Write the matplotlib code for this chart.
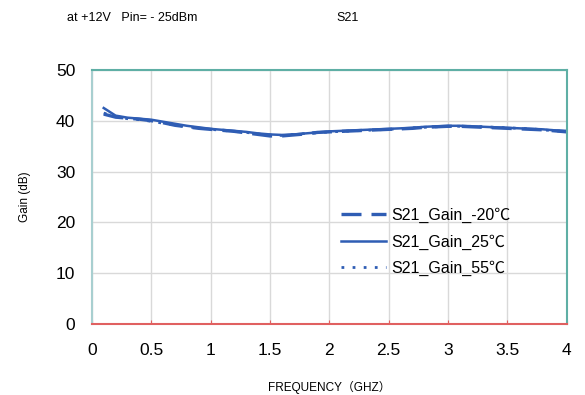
import matplotlib
matplotlib.use("Agg")
import matplotlib.pyplot as plt

plt.rcParams['font.family'] = ['Liberation Sans', 'Noto Sans CJK SC', 'DejaVu Sans']

freq = [0.1, 0.2, 0.3, 0.4, 0.5, 0.6, 0.7, 0.8, 0.9, 1.0,
        1.1, 1.2, 1.3, 1.4, 1.5, 1.6, 1.7, 1.8, 1.9, 2.0,
        2.1, 2.2, 2.3, 2.4, 2.5, 2.6, 2.7, 2.8, 2.9, 3.0,
        3.1, 3.2, 3.3, 3.4, 3.5, 3.6, 3.7, 3.8, 3.9, 4.0]

gain_m20 = [41.3, 40.7, 40.5, 40.3, 40.0, 39.6, 39.1, 38.8, 38.5, 38.3,
            38.1, 37.9, 37.6, 37.3, 37.0, 37.0, 37.2, 37.4, 37.7, 37.8,
            37.9, 38.0, 38.1, 38.2, 38.3, 38.4, 38.5, 38.7, 38.8, 38.9,
            38.9, 38.8, 38.7, 38.6, 38.5, 38.4, 38.3, 38.2, 38.0, 37.8]
gain_25 = [42.5, 41.0, 40.6, 40.4, 40.2, 39.8, 39.4, 39.0, 38.7, 38.4,
           38.2, 38.0, 37.8, 37.5, 37.3, 37.2, 37.3, 37.5, 37.7, 37.9,
           38.0, 38.1, 38.2, 38.3, 38.4, 38.5, 38.6, 38.8, 38.9, 39.0,
           39.0, 38.9, 38.8, 38.7, 38.6, 38.5, 38.4, 38.3, 38.1, 38.0]
gain_55 = [41.5, 40.8, 40.4, 40.2, 39.9, 39.5, 39.2, 38.8, 38.6, 38.3,
           38.1, 37.9, 37.7, 37.4, 37.2, 37.1, 37.3, 37.5, 37.6, 37.8,
           37.9, 38.0, 38.1, 38.2, 38.3, 38.4, 38.6, 38.7, 38.8, 38.9,
           38.9, 38.9, 38.8, 38.7, 38.6, 38.5, 38.4, 38.2, 38.0, 37.9]

blue = '#2F5DB4'

fig = plt.figure(figsize=(5.85, 3.95), dpi=100)
ax = fig.add_axes([0.157, 0.180, 0.812, 0.643])

ax.plot(freq, gain_m20, color=blue, lw=2.4, ls=(0, (6, 3)), label='S21_Gain_-20℃')
ax.plot(freq, gain_25, color=blue, lw=1.8, ls='-', label='S21_Gain_25℃')
ax.plot(freq, gain_55, color=blue, lw=2.0, ls=(0, (1, 3)), label='S21_Gain_55℃')

ax.set_xlim(0, 4)
ax.set_ylim(0, 50)
ax.set_xticks([0, 0.5, 1, 1.5, 2, 2.5, 3, 3.5, 4])
ax.set_xticklabels(['0', '0.5', '1', '1.5', '2', '2.5', '3', '3.5', '4'])
ax.set_yticks([0, 10, 20, 30, 40, 50])
ax.grid(True, color='#D9D9D9', lw=1)
ax.set_axisbelow(True)

ax.tick_params(axis='x', direction='in', length=3, color='#E06060', labelsize=12.5, pad=14)
ax.tick_params(axis='y', length=0, labelsize=12.5, pad=12)

ax.spines['bottom'].set_color('#E06060')
ax.spines['left'].set_color('#A8CFD0')
ax.spines['top'].set_color('#5FAFA5')
ax.spines['right'].set_color('#5FAFA5')
for s in ax.spines.values():
    s.set_linewidth(1.5)

ax.set_xlabel('FREQUENCY（GHZ）', fontsize=8.5, labelpad=16)
ax.set_ylabel('Gain (dB)', fontsize=8.5, labelpad=18)

fig.text(0.115, 0.955, 'at +12V   Pin= - 25dBm', fontsize=9, va='center')
fig.text(0.575, 0.955, 'S21', fontsize=9, va='center')

leg = ax.legend(loc='center', bbox_to_anchor=(0.703, 0.323), frameon=False,
                fontsize=11.5, handlelength=2.8, handletextpad=0.3, labelspacing=0.7)

fig.savefig('out.png', dpi=100)
